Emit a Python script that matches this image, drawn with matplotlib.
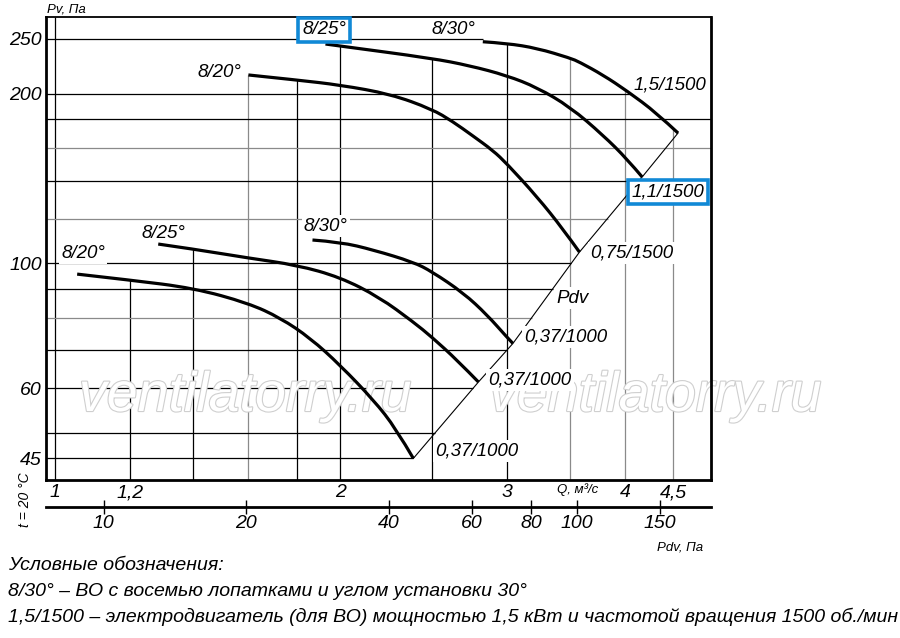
import numpy as np
import matplotlib
matplotlib.use("Agg")
import matplotlib.pyplot as plt
import matplotlib.patheffects as pe
from matplotlib.path import Path
from matplotlib.patches import PathPatch
from matplotlib.ticker import NullLocator, NullFormatter

# -------------------------
# Data (Q in m3/s, Pv in Pa)
# -------------------------
# 1500 rpm group
q_hi_20 = [1.60, 1.80, 2.00, 2.26, 2.50, 2.63, 2.76, 2.90, 3.00, 3.23, 3.44, 3.58]
p_hi_20 = [215.8, 211.4, 207.1, 199.6, 187.7, 178.4, 168.4, 158.5, 150.2, 131.1, 114.9, 104.6]

q_hi_25 = [1.93, 2.00, 2.50, 2.74, 3.00, 3.23, 3.50, 3.79, 4.02, 4.17]
p_hi_25 = [244.9, 242.9, 231.0, 224.2, 215.3, 205.0, 189.3, 168.8, 153.0, 142.2]

q_hi_30 = [2.83, 3.00, 3.23, 3.50, 3.58, 3.79, 4.02, 4.32, 4.55]
p_hi_30 = [247.2, 245.6, 240.7, 231.2, 227.5, 215.8, 202.1, 184.7, 170.2]

# 1000 rpm group
q_lo_20 = [1.055, 1.20, 1.40, 1.60, 1.73, 1.86, 2.00, 2.17, 2.29, 2.39]
p_lo_20 = [95.6, 93.3, 90.3, 84.9, 79.9, 73.6, 65.9, 57.1, 50.9, 45.0]

q_lo_25 = [1.285, 1.40, 1.60, 1.80, 2.00, 2.20, 2.39, 2.50, 2.66, 2.80]
p_lo_25 = [108.1, 105.9, 102.1, 99.2, 94.4, 87.0, 78.6, 73.9, 67.2, 61.5]

q_lo_30 = [1.87, 2.00, 2.17, 2.39, 2.50, 2.70, 2.86, 3.00, 3.045]
p_lo_30 = [109.9, 109.0, 105.5, 100.4, 96.6, 88.5, 80.9, 73.9, 72.0]

curves = [
    (q_hi_20, p_hi_20), (q_hi_25, p_hi_25), (q_hi_30, p_hi_30),
    (q_lo_20, p_lo_20), (q_lo_25, p_lo_25), (q_lo_30, p_lo_30),
]

# axis ticks / grid
q_ticks = [1, 1.2, 2, 3, 4, 4.5]
q_tick_labels = ["1", "1,2", "2", "3", "4", "4,5"]
p_ticks = [45, 60, 100, 200, 250]
p_tick_labels = ["45", "60", "100", "200", "250"]
pdv_ticks = [10, 20, 40, 60, 80, 100, 150]
pdv_tick_labels = ["10", "20", "40", "60", "80", "100", "150"]
q_grid = [1, 1.2, 1.4, 1.6, 1.8, 2, 2.5, 3, 3.5, 4, 4.5]
q_grid_gray = [1.6, 3.5, 4, 4.5]
p_grid = [45, 50, 60, 70, 80, 90, 100, 120, 140, 160, 180, 200, 250]
p_grid_gray = [80, 120, 160]

PDV_K = 7.9  # Pdv = K * Q^2

legend_lines = [
    "Условные обозначения:",
    "8/30° – ВО с восемью лопатками и углом установки 30°",
    "1,5/1500 – электродвигатель (для ВО) мощностью 1,5 кВт и частотой вращения 1500 об./мин",
]

plt.rcParams["font.family"] = ["Liberation Sans", "DejaVu Sans"]
plt.rcParams["font.style"] = "italic"

BLUE = "#1189d6"
GRAY = "#8a8a8a"


def logi(x, xs, ys):
    return 10 ** np.interp(np.log10(x), np.log10(xs), np.log10(ys))


def smooth_path(qs, ps):
    # quadratic bezier through the read points (midpoints taken in log space)
    lq, lp = np.log10(qs), np.log10(ps)
    verts = [(qs[0], ps[0])]
    codes = [Path.MOVETO]
    n = len(qs)
    for i in range(1, n - 1):
        if i < n - 2:
            nxt = (10 ** ((lq[i] + lq[i + 1]) / 2), 10 ** ((lp[i] + lp[i + 1]) / 2))
        else:
            nxt = (qs[-1], ps[-1])
        verts += [(qs[i], ps[i]), nxt]
        codes += [Path.CURVE3, Path.CURVE3]
    return Path(verts, codes)


fig = plt.figure(figsize=(9, 6.38), dpi=100)
ax = fig.add_axes([46 / 900, 1 - 480 / 638, 665 / 900, 463 / 638])
ax.set_xscale("log")
ax.set_yscale("log")
XMIN, XMAX = 0.978, 4.93
YMIN, YMAX = 41.2, 273.5
ax.set_xlim(XMIN, XMAX)
ax.set_ylim(YMIN, YMAX)

# Pdv line through curve end points
ends = sorted([(c[0][-1], c[1][-1]) for c in curves])
pdv_q = [e[0] for e in ends]
pdv_p = [e[1] for e in ends]

# -------------------------
# Grid (clipped like the original drawing)
# -------------------------
for q in q_grid:
    tops = [logi(q, cq, cp) for cq, cp in curves if cq[0] <= q <= cq[-1]]
    top = max(tops) if tops else YMAX
    col = GRAY if q in q_grid_gray else "black"
    ax.vlines(q, YMIN, top, color=col, lw=0.9, zorder=1)

for p in p_grid:
    if p <= 150:
        end = 10 ** np.interp(np.log10(p), np.log10(pdv_p), np.log10(pdv_q))
    elif p < 190:
        end = XMAX
    elif p > max(p_hi_30):
        end = q_hi_30[0]
    else:
        end = logi(p, p_hi_30[::-1], q_hi_30[::-1])
    col = GRAY if p in p_grid_gray else "black"
    ax.hlines(p, XMIN, end, color=col, lw=0.9, zorder=1)

# watermark
for xf in (245 / 900, 655 / 900):
    ax.text(xf, 1 - 397 / 638, "ventilatorry.ru", transform=fig.transFigure,
            ha="center", va="center", fontsize=40, color="white",
            style="italic", zorder=1.5, clip_on=False,
            path_effects=[pe.withStroke(linewidth=1.6, foreground="#cfcfcf")])

ax.plot(pdv_q, pdv_p, color="black", lw=0.8, zorder=2.5)

for cq, cp in curves:
    ax.add_patch(PathPatch(smooth_path(cq, cp), fill=False, ec="black", lw=2.3,
                           capstyle="butt", zorder=4))

# -------------------------
# Labels
# -------------------------
white = dict(boxstyle="square,pad=0.12", fc="white", ec="none")
blue = dict(boxstyle="square,pad=0.2", fc="white", ec=BLUE, lw=2.6)
labels = [
    ("8/20°", 1.49, 218.4, white),
    ("8/25°", 1.923, 259.5, blue),
    ("8/30°", 2.633, 260.4, None),
    ("1,5/1500", 4.461, 207.1, None),
    ("1,1/1500", 4.44, 133.7, blue),
    ("0,75/1500", 4.068, 104.2, white),
    ("Pdv", 3.524, 86.7, white),
    ("0,37/1000", 3.464, 73.9, white),
    ("0,37/1000", 3.174, 62.0, white),
    ("0,37/1000", 2.79, 46.4, white),
    ("8/20°", 1.07, 104.2, white),
    ("8/25°", 1.30, 113.0, white),
    ("8/30°", 1.932, 116.3, white),
]
for txt, q, p, box in labels:
    ax.text(q, p, txt, ha="center", va="center", fontsize=13.5, bbox=box,
            zorder=3 if box is not blue else 5, clip_on=False)

# -------------------------
# Axes styling
# -------------------------
for s in ("left", "bottom", "right"):
    ax.spines[s].set_linewidth(2.0)
ax.spines["top"].set_linewidth(1.3)

ax.set_xticks(q_ticks, labels=q_tick_labels)
ax.set_yticks(p_ticks, labels=p_tick_labels)
for a in (ax.xaxis, ax.yaxis):
    a.set_minor_locator(NullLocator())
    a.set_minor_formatter(NullFormatter())
ax.tick_params(axis="x", length=0, pad=3, labelsize=14)
ax.tick_params(axis="y", length=0, pad=3, labelsize=14)

sec = ax.secondary_xaxis(-27 / 463, functions=(
    lambda q: PDV_K * np.asarray(q) ** 2,
    lambda p: np.sqrt(np.maximum(np.asarray(p), 1e-9) / PDV_K)))
sec.set_xticks(pdv_ticks, labels=pdv_tick_labels)
sec.xaxis.set_minor_locator(NullLocator())
sec.xaxis.set_minor_formatter(NullFormatter())
sec.spines["bottom"].set_linewidth(2.0)
sec.tick_params(axis="x", direction="inout", length=10, width=1, pad=1, labelsize=14)

ax.text(3.56, -10 / 463, "Q, м³/с", transform=ax.get_xaxis_transform(),
        ha="center", va="center", fontsize=9.5)
fig.text(66 / 900, 1 - 9 / 638, "Pv, Па", ha="center", va="center", fontsize=9.5)
fig.text(680 / 900, 1 - 548 / 638, "Pdv, Па", ha="center", va="center", fontsize=9.5)
fig.text(25 / 900, 1 - 500 / 638, "t = 20 °C", ha="center", va="center",
         rotation=90, fontsize=10)

for i, line in enumerate(legend_lines):
    fig.text(8 / 900, 1 - (565 + 26 * i) / 638, line, ha="left", va="center",
             fontsize=14)

fig.savefig("out.png", dpi=100)
